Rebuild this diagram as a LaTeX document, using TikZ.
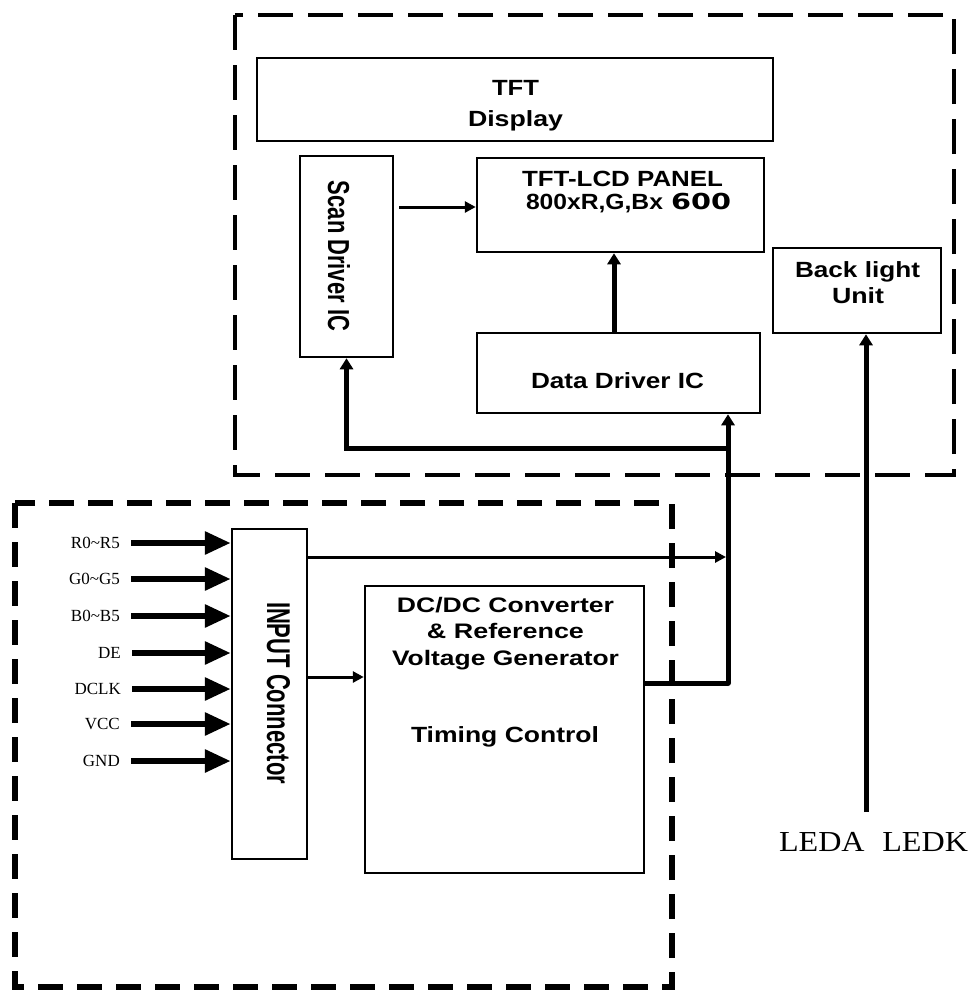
\documentclass[tikz,border=0pt]{standalone}
\usepackage{fontspec}
\setmainfont{Liberation Serif}
\newfontfamily\sansf{Liberation Sans}
\newfontfamily\dvf{DejaVu Sans}
\usepackage{graphicx}
\usetikzlibrary{arrows.meta,calc}
\newcommand{\fw}[2]{\resizebox{#1}{\height}{#2}}
\begin{document}
\begin{tikzpicture}[x=1pt,y=-1pt,
  box/.style={draw, line width=2.5pt, inner sep=0pt},
  txt/.style={inner sep=0pt, anchor=base, font=\sansf\bfseries\fontsize{22}{24}\selectfont},
  txs/.style={inner sep=0pt, anchor=base, font=\sansf\bfseries\fontsize{21}{23}\selectfont},
  rot/.style={inner sep=0pt, rotate=-90, font=\sansf\bfseries\fontsize{22}{24}\selectfont},
  lbl/.style={inner sep=0pt, anchor=east, font=\fontsize{17}{19}\selectfont},
  thinarr/.style={line width=3pt, -{Triangle[length=11pt,width=11pt]}},
  busarr/.style={line width=5pt, -{Triangle[length=11pt,width=13pt]}},
  busline/.style={line width=5pt},
  inarr/.style={line width=6pt, -{Triangle[length=26pt,width=22pt]}},
  dashA/.style={line width=4.5pt, dash pattern=on 35pt off 15pt},
  dashB/.style={line width=6.5pt, dash pattern=on 25pt off 14pt}]
\useasboundingbox (0,0) rectangle (974,991);
\fill[white] (0,0) rectangle (974,991);
% dashed groups
\draw[dashA] (235,15) rectangle (954,475);
\draw[dashB] (15,503) rectangle (672,987);
% boxes
\node[box, minimum width=516pt, minimum height=83pt] (disp) at (515,99.5) {};
\node[box, minimum width=93pt, minimum height=201pt] (scan) at (346.5,256.5) {};
\node[box, minimum width=287pt, minimum height=94pt] (panel) at (620.5,205) {};
\node[box, minimum width=168pt, minimum height=85pt] (back) at (857,290.5) {};
\node[box, minimum width=283pt, minimum height=80pt] (data) at (618.5,373) {};
\node[box, minimum width=75pt, minimum height=330pt] (input) at (269.5,694) {};
\node[box, minimum width=279pt, minimum height=287pt] (dc) at (504.5,729.5) {};
% texts
\node[txt] (t1) at (515.5,95) {\fw{47pt}{TFT}};
\node[txt] (t2) at (515.5,126) {\fw{95pt}{Display}};
\node[txt] (t3) at (622.5,186) {\fw{201pt}{TFT-LCD PANEL}};
\node[txt] (t4) at (594.5,209) {\fw{137pt}{800xR,G,Bx}};
\node[inner sep=0pt, anchor=base, font=\dvf\bfseries\fontsize{22}{24}\selectfont] (t5) at (701,209) {\fw{60pt}{600}};
\node[txt] (t6) at (617.5,388) {\fw{173pt}{Data Driver IC}};
\node[txt] (t7) at (857.5,277) {\fw{125pt}{Back light}};
\node[txt] (t8) at (858,303) {\fw{52pt}{Unit}};
\node[txs] (t9) at (505.5,612) {\fw{217pt}{DC/DC Converter}};
\node[txs] (t10) at (505.5,638) {\fw{157pt}{\& Reference}};
\node[txs] (t11) at (505.5,665) {\fw{227pt}{Voltage Generator}};
\node[txt] (t12) at (505,742) {\fw{188pt}{Timing Control}};
\node[rot] (t13) at (339,256) {\resizebox{150pt}{22pt}{Scan Driver IC}};
\node[rot] (t14) at (278.5,693) {\resizebox{182pt}{23pt}{INPUT Connector}};
\node[inner sep=0pt, anchor=base, font=\fontsize{29}{31}\selectfont] (ledt) at (873.5,851) {\fw{189pt}{LEDA\hspace{0.55em}LEDK}};
% input labels
\node[lbl] (lr) at (120,543) {R0\textasciitilde R5};
\node[lbl] (lg) at (120,579) {G0\textasciitilde G5};
\node[lbl] (lb) at (120,616) {B0\textasciitilde B5};
\node[lbl] (lde) at (121,653) {DE};
\node[lbl] (ldclk) at (121,689) {DCLK};
\node[lbl] (lvcc) at (120,724) {VCC};
\node[lbl] (lgnd) at (120,761) {GND};
\foreach \n in {lr,lg,lb,lde,ldclk,lvcc,lgnd}{
  \draw[inarr] ($(\n.east)+(11,0)$) -- (\n -| input.west);
}
% connectors
\coordinate (jB) at (728,683);
\coordinate (busR) at (728,448);
\coordinate (i1) at (307,557);
\coordinate (i2) at (307,677);
\coordinate (led) at (866,812);
\draw[thinarr] ($(scan.east |- panel.west)+(5,2)$) -- ($(panel.west)+(0,2)$);
\draw[busarr] ($(data.north)+(-4.5,0)$) -- ($(panel.south)+(-6.5,0)$);
\draw[busarr] (busR) -| (scan.south);
\draw[busarr] (jB) -- (jB |- data.south);
\draw[thinarr] (i1) -- ($(i1 -| jB)+(-2,0)$);
\draw[thinarr] (i2) -- (i2 -| dc.west);
\draw[busline] (dc.east |- jB) -- (jB);
\fill (jB) circle (3pt);
\draw[busarr] (led) -- (led |- back.south);
\end{tikzpicture}
\end{document}
